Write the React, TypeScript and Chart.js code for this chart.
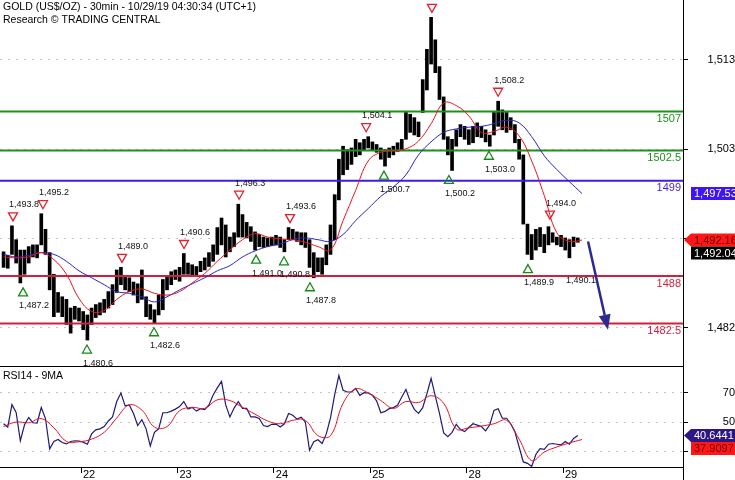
import React, { useEffect, useRef } from 'react';
import { Chart, registerables } from 'chart.js';

Chart.register(...registerables);

// ---------------- data ----------------
const TITLE = 'GOLD (US$/OZ) - 30min - 10/29/19 04:30:34 (UTC+1)';
const SUBTITLE = 'Research © TRADING CENTRAL';
const RSI_TITLE = 'RSI14 - 9MA';

// half-hour bar index at which each trading day starts
const dayStartBars = [37, 83, 129, 175, 221, 267];
const dayLabels = ['22', '23', '24', '25', '28', '29'];

// price ranges, one sample every 2 half-hour bars
const PRICE_STEP = 2;
const priceLow = [
  1489.0, 1488.9, 1490.5, 1489.5, 1487.2, 1488.2, 1489.5, 1490.2, 1490.1, 1491.6,
  1490.5, 1486.4, 1483.3, 1483.8, 1483.3, 1482.4, 1481.4, 1483.0, 1482.8, 1481.8,
  1480.6, 1482.4, 1483.2, 1483.5, 1483.8, 1484.3, 1484.7, 1486.1, 1487.0, 1486.4,
  1486.2, 1485.8, 1484.9, 1485.3, 1483.3, 1483.0, 1482.6, 1483.5, 1484.1, 1486.4,
  1487.0, 1487.6, 1487.4, 1488.2, 1488.2, 1488.0, 1488.1, 1488.5, 1488.7, 1489.1,
  1489.7, 1490.5, 1491.6, 1490.2, 1490.8, 1491.4, 1492.5, 1492.5, 1492.4, 1492.0,
  1491.0, 1491.4, 1491.3, 1491.4, 1491.5, 1491.6, 1491.3, 1490.8, 1492.2, 1492.2,
  1492.0, 1491.6, 1491.3, 1489.0, 1487.8, 1488.5, 1488.2, 1489.3, 1490.5, 1492.2,
  1496.8, 1499.7, 1500.3, 1500.9, 1501.8, 1502.0, 1502.6, 1502.8, 1502.6, 1502.3,
  1501.5, 1500.7, 1501.7, 1502.0, 1502.4, 1502.6, 1503.8, 1504.6, 1504.3, 1504.1,
  1506.9, 1509.5, 1512.5, 1511.5, 1508.4, 1503.8, 1502.0, 1500.2, 1503.0, 1504.1,
  1503.8, 1503.2, 1503.4, 1504.1, 1504.0, 1503.5, 1503.0, 1504.3, 1505.3, 1504.9,
  1504.6, 1504.9, 1503.4, 1501.5, 1494.0, 1490.5, 1489.9, 1491.0, 1491.4, 1490.7,
  1491.6, 1491.9, 1491.6, 1491.4, 1491.0, 1490.1, 1491.4, 1491.9,
];
const priceHigh = [
  1490.8, 1490.4, 1493.8, 1492.2, 1491.0, 1491.0, 1491.4, 1491.6, 1491.6, 1495.2,
  1493.4, 1490.7, 1488.2, 1486.1, 1485.6, 1485.3, 1484.3, 1484.5, 1484.3, 1483.9,
  1483.5, 1484.3, 1484.7, 1484.9, 1485.3, 1486.2, 1487.0, 1488.7, 1489.0, 1488.0,
  1487.8, 1487.3, 1487.1, 1488.7, 1485.6, 1484.7, 1484.1, 1485.8, 1487.6, 1488.0,
  1488.5, 1488.7, 1489.0, 1490.6, 1489.5, 1489.3, 1489.1, 1489.7, 1490.1, 1490.7,
  1491.6, 1493.6, 1494.7, 1493.9, 1492.5, 1493.0, 1496.3, 1495.1, 1494.2, 1493.7,
  1493.1, 1492.8, 1492.5, 1492.4, 1492.5, 1492.7, 1492.5, 1492.2, 1493.6, 1493.4,
  1493.1, 1493.0, 1493.0, 1492.2, 1490.7, 1490.1, 1490.1, 1491.6, 1493.9, 1497.4,
  1501.5, 1503.0, 1502.6, 1502.8, 1503.8, 1503.4, 1503.8, 1504.1, 1503.5, 1503.2,
  1502.8, 1502.6, 1502.8, 1503.0, 1503.4, 1503.8, 1506.9, 1506.7, 1506.3, 1505.8,
  1510.7, 1514.2, 1517.9, 1515.3, 1512.2, 1508.7, 1504.1, 1503.8, 1504.9, 1505.5,
  1505.3, 1504.9, 1505.3, 1505.7, 1505.3, 1504.9, 1504.3, 1506.9, 1508.2, 1507.2,
  1506.9, 1506.3, 1505.5, 1503.8, 1502.0, 1494.0, 1492.8, 1493.4, 1493.6, 1492.8,
  1493.7, 1493.0, 1492.5, 1492.7, 1492.4, 1492.2, 1492.5, 1492.4,
];
const LAST_CLOSE = 1492.04;

// moving averages, one sample every 6 half-hour bars
const MA_STEP = 6;
const maFast = [
  1490.2, 1490.1, 1490.2, 1490.7, 1489.9, 1488.2, 1485.4, 1483.9, 1484.0, 1485.3,
  1486.2, 1486.5, 1486.0, 1485.8, 1486.2, 1487.2, 1488.3, 1489.7, 1491.0, 1492.2,
  1492.9, 1492.5, 1492.3, 1492.2, 1491.9, 1491.4, 1491.0, 1494.4, 1497.9, 1501.3,
  1502.3, 1502.5, 1502.7, 1503.6, 1505.6, 1508.0, 1507.7, 1506.5, 1504.6, 1504.7,
  1505.2, 1504.2, 1501.3, 1497.3, 1493.0, 1492.0, 1492.16,
];
const maSlow = [
  1490.5, 1490.2, 1490.4, 1490.7, 1490.5, 1489.7, 1488.6, 1487.8, 1487.0, 1486.2,
  1486.0, 1485.6, 1485.0, 1485.6, 1486.4, 1487.1, 1487.8, 1488.6, 1489.2, 1490.2,
  1490.9, 1491.4, 1491.7, 1492.2, 1492.4, 1492.2, 1492.0, 1492.8, 1494.4, 1495.8,
  1497.2, 1498.3, 1499.7, 1502.0, 1503.5, 1504.6, 1505.0, 1505.2, 1505.3, 1505.6,
  1506.0, 1505.7, 1504.1, 1501.9, 1500.3, 1498.9, 1497.53,
];

// RSI(14), one sample every 2 bars, and its 9-period MA every 6 bars
const rsi = [
  48.8, 46.5, 62.0, 56.6, 37.1, 48.1, 53.1, 49.5, 49.3, 60.0,
  52.4, 31.5, 36.6, 38.0, 35.9, 34.9, 36.6, 37.1, 36.8, 36.1,
  34.7, 41.8, 44.6, 45.3, 46.9, 50.7, 53.5, 64.1, 70.0, 61.1,
  61.8, 55.9, 47.6, 51.6, 45.3, 33.5, 42.9, 45.3, 56.4, 56.4,
  57.5, 58.9, 60.6, 64.1, 58.9, 60.1, 57.5, 59.2, 58.5, 61.8,
  68.6, 73.5, 78.0, 61.8, 53.5, 59.6, 64.1, 59.4, 59.4, 53.5,
  53.5, 52.4, 47.6, 46.9, 48.4, 48.6, 46.5, 48.8, 55.9, 54.7,
  52.0, 53.3, 50.0, 30.5, 36.4, 37.8, 35.2, 41.8, 52.8, 68.8,
  82.0, 71.9, 70.7, 70.7, 73.1, 68.4, 70.2, 70.0, 68.4, 64.6,
  56.4, 57.3, 59.2, 59.9, 61.5, 67.2, 72.4, 64.4, 58.7, 55.9,
  59.9, 69.5, 80.0, 68.0, 55.9, 42.5, 39.9, 42.9, 48.4, 44.8,
  43.4, 46.2, 48.8, 47.9, 46.9, 43.9, 48.1, 58.0, 59.2, 52.6,
  52.6, 48.8, 43.2, 32.8, 22.5, 21.5, 19.4, 27.6, 31.6, 31.2,
  34.7, 35.2, 34.7, 34.2, 36.6, 34.7, 38.7, 40.6441,
];
const rsiMA = [
  46.9, 50.0, 49.5, 52.4, 46.0, 36.6, 36.4, 38.2, 42.9, 52.8,
  61.8, 58.2, 46.5, 46.9, 57.8, 60.1, 59.4, 65.3, 64.8, 60.1,
  55.4, 50.7, 48.8, 51.2, 51.2, 40.6, 40.6, 62.9, 72.8, 70.0,
  64.8, 59.4, 64.1, 63.4, 68.1, 62.9, 45.3, 46.0, 47.2, 48.8,
  51.2, 38.2, 23.4, 29.3, 32.8, 35.6, 37.9097,
];

// support / resistance levels
const levelValues = [1507, 1502.5, 1499, 1488, 1482.5];

// axis ticks
const priceTicks = [1482, 1492.333, 1502.667, 1513];
const rsiTicks = [30, 50, 70];

// swing high (resistance) and swing low (support) markers
const peakBars = [4.5, 18.8, 56.5, 86.1, 112.4, 136.7, 173, 204.4, 236, 260.7];
const peakValues = [1493.8, 1495.2, 1489.0, 1490.6, 1496.3, 1493.6, 1504.1, 1517.9, 1508.2, 1494.0];
const peakShowLabel = [true, true, true, true, true, true, true, false, true, true];
const troughBars = [9.3, 39.8, 71.8, 120.5, 133.8, 146.2, 181.5, 212.5, 231.6, 250.2, 270.3];
const troughValues = [1487.2, 1480.6, 1482.6, 1491.0, 1490.8, 1487.8, 1500.7, 1500.2, 1503.0, 1489.9, 1490.1];
const troughShowMarker = [true, true, true, true, true, true, true, true, true, true, false];

// forecast arrow (bar index, price)
const arrowBars = [278.9, 288.4];
const arrowValues = [1492.0, 1481.8];

// ---------------- styles ----------------
const FONT = '"Liberation Sans", Arial, sans-serif';
const X_MIN = -1.7;
const X_MAX = 324.2;
const LEVEL_COLORS = ['#1f8f1f', '#1f8f1f', '#3d1cf2', '#d21f3c', '#d21f3c'];
const FAST_COLOR = '#e8141e';
const SLOW_COLOR = '#2a24c8';
const RSI_COLOR = '#1f1a7a';
const GRID_COLOR = '#c4c4c4';
const AXIS_W = 52;

const fmt1 = (v: number) => v.toLocaleString('en-US', { minimumFractionDigits: 1, maximumFractionDigits: 1 });
const fmt2 = (v: number) => v.toLocaleString('en-US', { minimumFractionDigits: 2, maximumFractionDigits: 2 });
const fmt0 = (v: number) => Math.round(v).toLocaleString('en-US');

const noPad = (s: any) => {
  s.paddingTop = 0;
  s.paddingBottom = 0;
  s.paddingLeft = 0;
  s.paddingRight = 0;
};

function drawBox(ctx: CanvasRenderingContext2D, yc: number, text: string, bg: string, fg: string, pointer: boolean) {
  const h = 13;
  const left = 691;
  const right = 735;
  ctx.beginPath();
  if (pointer) {
    ctx.moveTo(684, yc);
    ctx.lineTo(left, yc - h / 2);
  } else {
    ctx.moveTo(left, yc - h / 2);
  }
  ctx.lineTo(right, yc - h / 2);
  ctx.lineTo(right, yc + h / 2);
  ctx.lineTo(left, yc + h / 2);
  ctx.closePath();
  ctx.fillStyle = bg;
  ctx.fill();
  ctx.fillStyle = fg;
  ctx.font = `11px ${FONT}`;
  ctx.textAlign = 'left';
  ctx.textBaseline = 'middle';
  ctx.fillText(text, left + 3, yc + 0.5);
}

function stackBoxes(items: { y: number }[]) {
  const sorted = [...items].sort((a, b) => a.y - b.y);
  for (let i = 1; i < sorted.length; i++) {
    if (sorted[i].y < sorted[i - 1].y + 13) sorted[i].y = sorted[i - 1].y + 13;
  }
}

const mainOverlay = {
  id: 'mainOverlay',
  afterDatasetsDraw(chart: any) {
    const { ctx, chartArea } = chart;
    const x = chart.scales.x;
    const y = chart.scales.y;
    ctx.save();

    // level labels
    ctx.font = `11px ${FONT}`;
    ctx.textAlign = 'right';
    ctx.textBaseline = 'middle';
    levelValues.forEach((v, i) => {
      ctx.fillStyle = LEVEL_COLORS[i];
      ctx.fillText(String(v), chartArea.right - 2, y.getPixelForValue(v) + 7.5);
    });

    // markers
    ctx.lineWidth = 1.3;
    ctx.font = `9px ${FONT}`;
    ctx.textAlign = 'left';
    peakBars.forEach((b, i) => {
      const px = x.getPixelForValue(b);
      const py = y.getPixelForValue(peakValues[i]);
      const cy = py - 9;
      ctx.strokeStyle = '#e0202a';
      ctx.beginPath();
      ctx.moveTo(px - 4.5, cy - 4);
      ctx.lineTo(px + 4.5, cy - 4);
      ctx.lineTo(px, cy + 4);
      ctx.closePath();
      ctx.stroke();
      if (peakShowLabel[i]) {
        ctx.fillStyle = '#111';
        ctx.fillText(fmt1(peakValues[i]), px - 4, py - 21);
      }
    });
    troughBars.forEach((b, i) => {
      const px = x.getPixelForValue(b);
      const py = y.getPixelForValue(troughValues[i]);
      const cy = py + 9;
      if (troughShowMarker[i]) {
        ctx.strokeStyle = '#168a16';
        ctx.beginPath();
        ctx.moveTo(px - 4.5, cy + 4);
        ctx.lineTo(px + 4.5, cy + 4);
        ctx.lineTo(px, cy - 4);
        ctx.closePath();
        ctx.stroke();
      }
      ctx.fillStyle = '#111';
      ctx.fillText(fmt1(troughValues[i]), px - 4, py + 23);
    });

    // forecast arrow
    const ax0 = x.getPixelForValue(arrowBars[0]);
    const ay0 = y.getPixelForValue(arrowValues[0]);
    const ax1 = x.getPixelForValue(arrowBars[1]);
    const ay1 = y.getPixelForValue(arrowValues[1]);
    const ang = Math.atan2(ay1 - ay0, ax1 - ax0);
    const headLen = 15;
    const headW = 6;
    const bx = ax1 - headLen * Math.cos(ang);
    const by = ay1 - headLen * Math.sin(ang);
    ctx.strokeStyle = '#2a2a90';
    ctx.fillStyle = '#2a2a90';
    ctx.lineWidth = 2.5;
    ctx.beginPath();
    ctx.moveTo(ax0, ay0);
    ctx.lineTo(bx, by);
    ctx.stroke();
    ctx.beginPath();
    ctx.moveTo(ax1, ay1);
    ctx.lineTo(bx + headW * Math.sin(ang), by - headW * Math.cos(ang));
    ctx.lineTo(bx - headW * Math.sin(ang), by + headW * Math.cos(ang));
    ctx.closePath();
    ctx.fill();

    // title
    ctx.fillStyle = '#000';
    ctx.font = `10.5px ${FONT}`;
    ctx.textAlign = 'left';
    ctx.textBaseline = 'middle';
    ctx.fillText(TITLE, 3, 7.5);
    ctx.fillText(SUBTITLE, 3, 20);
    ctx.restore();
  },
  afterDraw(chart: any) {
    const { ctx } = chart;
    const y = chart.scales.y;
    const lastSlow = maSlow[maSlow.length - 1];
    const lastFast = maFast[maFast.length - 1];
    const boxes = [
      { y: y.getPixelForValue(lastSlow), text: fmt2(lastSlow), bg: '#3d14f5', fg: '#fff', pointer: false },
      { y: y.getPixelForValue(lastFast), text: fmt2(lastFast), bg: '#ff1717', fg: '#6a0000', pointer: true },
      { y: y.getPixelForValue(LAST_CLOSE) + 0.01, text: fmt2(LAST_CLOSE), bg: '#000', fg: '#fff', pointer: false },
    ];
    stackBoxes(boxes);
    ctx.save();
    boxes.forEach((b) => drawBox(ctx, b.y, b.text, b.bg, b.fg, b.pointer));
    ctx.restore();
  },
};

const rsiOverlay = {
  id: 'rsiOverlay',
  afterDraw(chart: any) {
    const { ctx, chartArea } = chart;
    const y = chart.scales.y;
    ctx.save();
    ctx.strokeStyle = '#000';
    ctx.lineWidth = 1;
    ctx.beginPath();
    ctx.moveTo(0, 0.5);
    ctx.lineTo(chartArea.right, 0.5);
    ctx.moveTo(chartArea.right + 0.5, chartArea.bottom);
    ctx.lineTo(chartArea.right + 0.5, chart.height);
    ctx.stroke();
    ctx.fillStyle = '#000';
    ctx.font = `10.5px ${FONT}`;
    ctx.textAlign = 'left';
    ctx.textBaseline = 'middle';
    ctx.fillText(RSI_TITLE, 3, 10);
    const lastRsi = rsi[rsi.length - 1];
    const lastMa = rsiMA[rsiMA.length - 1];
    const boxes = [
      { y: y.getPixelForValue(lastRsi), text: lastRsi.toFixed(4), bg: '#2e1784', fg: '#fff', pointer: true },
      { y: y.getPixelForValue(lastMa), text: lastMa.toFixed(4), bg: '#ff1717', fg: '#6a0000', pointer: false },
    ];
    stackBoxes(boxes);
    boxes.forEach((b) => drawBox(ctx, b.y, b.text, b.bg, b.fg, b.pointer));
    ctx.restore();
  },
};

function mainConfig(): any {
  const bars = priceLow.map((lo, i) => ({ x: i * PRICE_STEP, y: [lo, priceHigh[i]] }));
  const fast = maFast.map((v, k) => ({ x: k * MA_STEP, y: v }));
  const slow = maSlow.map((v, k) => ({ x: k * MA_STEP, y: v }));
  const levels = levelValues.map((v, i) => ({
    type: 'line',
    data: [{ x: X_MIN, y: v }, { x: X_MAX, y: v }],
    borderColor: LEVEL_COLORS[i],
    borderWidth: 2,
    pointRadius: 0,
    order: 3,
  }));
  return {
    type: 'bar',
    data: {
      datasets: [
        { type: 'line', data: fast, borderColor: FAST_COLOR, borderWidth: 1, pointRadius: 0, tension: 0.4, order: 1 },
        { type: 'line', data: slow, borderColor: SLOW_COLOR, borderWidth: 1, pointRadius: 0, tension: 0.4, order: 2 },
        ...levels,
        { type: 'bar', data: bars, backgroundColor: '#000', barThickness: 3, order: 5 },
      ],
    },
    options: {
      animation: false,
      responsive: false,
      maintainAspectRatio: false,
      layout: { padding: 0, autoPadding: false },
      plugins: { legend: { display: false }, tooltip: { enabled: false } },
      scales: {
        x: { type: 'linear', min: X_MIN, max: X_MAX, display: false, offset: false },
        y: {
          type: 'linear',
          position: 'right',
          min: 1477.6,
          max: 1519.9,
          beginAtZero: false,
          afterBuildTicks: (s: any) => { s.ticks = priceTicks.map((v) => ({ value: v })); },
          afterFit: (s: any) => { s.width = AXIS_W; noPad(s); },
          ticks: {
            callback: (v: number) => fmt0(v),
            font: { family: FONT, size: 11 },
            color: '#000',
            crossAlign: 'far',
            padding: 16.5,
            autoSkip: false,
          },
          grid: { color: GRID_COLOR, lineWidth: 1, tickColor: '#000', tickLength: 5, tickWidth: 1, tickBorderDash: [] },
          border: { display: true, color: '#000', width: 1, dash: [2, 6] },
        },
      },
    },
    plugins: [mainOverlay],
  };
}

function rsiConfig(): any {
  const line = rsi.map((v, i) => ({ x: i * PRICE_STEP, y: v }));
  const ma = rsiMA.map((v, k) => ({ x: k * MA_STEP, y: v }));
  return {
    type: 'line',
    data: {
      datasets: [
        { data: ma, borderColor: FAST_COLOR, borderWidth: 1, pointRadius: 0, tension: 0.4, order: 1 },
        { data: line, borderColor: RSI_COLOR, borderWidth: 1.2, pointRadius: 0, tension: 0, order: 2 },
      ],
    },
    options: {
      animation: false,
      responsive: false,
      maintainAspectRatio: false,
      layout: { padding: 0, autoPadding: false },
      plugins: { legend: { display: false }, tooltip: { enabled: false } },
      scales: {
        x: {
          type: 'linear',
          min: X_MIN,
          max: X_MAX,
          offset: false,
          afterBuildTicks: (s: any) => { s.ticks = dayStartBars.map((v) => ({ value: v })); },
          afterFit: (s: any) => { s.height = 13; noPad(s); },
          ticks: {
            callback: (v: number) => dayLabels[dayStartBars.indexOf(v)],
            font: { family: FONT, size: 11 },
            color: '#000',
            autoSkip: false,
            maxRotation: 0,
            padding: -5,
            labelOffset: 8,
          },
          grid: { drawOnChartArea: false, tickColor: '#000', tickLength: 6, tickWidth: 1 },
          border: { display: true, color: '#000', width: 1 },
        },
        y: {
          type: 'linear',
          position: 'right',
          min: 19.0,
          max: 88.6,
          afterBuildTicks: (s: any) => { s.ticks = rsiTicks.map((v) => ({ value: v })); },
          afterFit: (s: any) => { s.width = AXIS_W; noPad(s); },
          ticks: {
            callback: (v: number) => String(v),
            font: { family: FONT, size: 11 },
            color: '#000',
            crossAlign: 'far',
            padding: 32,
            autoSkip: false,
          },
          grid: { color: GRID_COLOR, lineWidth: 1, tickColor: '#000', tickLength: 5, tickWidth: 1, tickBorderDash: [] },
          border: { display: true, color: '#000', width: 1, dash: [2, 6] },
        },
      },
    },
    plugins: [rsiOverlay],
  };
}

export default function App() {
  const mainRef = useRef<HTMLCanvasElement>(null);
  const rsiRef = useRef<HTMLCanvasElement>(null);
  useEffect(() => {
    const main = new Chart(mainRef.current as HTMLCanvasElement, mainConfig());
    const lower = new Chart(rsiRef.current as HTMLCanvasElement, rsiConfig());
    return () => {
      main.destroy();
      lower.destroy();
    };
  }, []);
  return (
    <div style={{ position: 'fixed', left: 0, top: 0, width: 735, height: 480, background: '#fff' }}>
      <canvas ref={mainRef} width={735} height={366} style={{ position: 'absolute', left: 0, top: 0, width: 735, height: 366 }} />
      <canvas ref={rsiRef} width={735} height={114} style={{ position: 'absolute', left: 0, top: 366, width: 735, height: 114 }} />
    </div>
  );
}
